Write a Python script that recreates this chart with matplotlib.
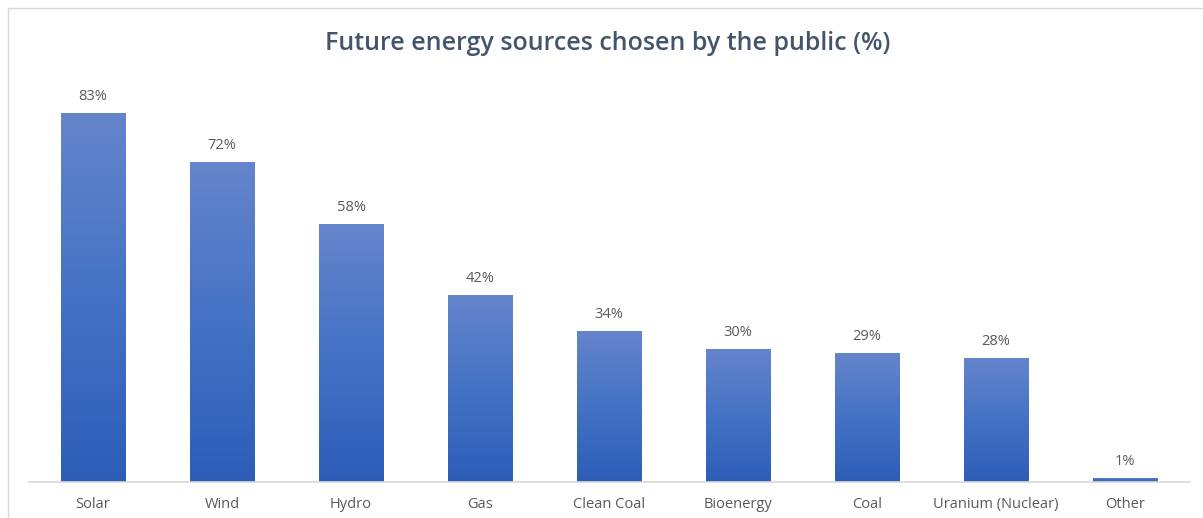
import matplotlib
matplotlib.use("Agg")
import matplotlib.pyplot as plt
import numpy as np
from matplotlib.colors import LinearSegmentedColormap
from matplotlib.lines import Line2D

categories = ["Solar", "Wind", "Hydro", "Gas", "Clean Coal", "Bioenergy", "Coal",
              "Uranium (Nuclear)", "Other"]
values = [83, 72, 58, 42, 34, 30, 29, 28, 1]
value_labels = ["83%", "72%", "58%", "42%", "34%", "30%", "29%", "28%", "1%"]

W, H = 1203, 518
fig = plt.figure(figsize=(W / 100, H / 100), dpi=100)
fig.patch.set_facecolor("white")

ax = fig.add_axes([28.5 / W, (H - 482) / H, (1189.5 - 28.5) / W, (482 - 82) / H])
ax.set_xlim(-0.5, len(categories) - 0.5)
ax.set_ylim(0, 90)

font = "Open Sans"
cmap = LinearSegmentedColormap.from_list("g", ["#2E5DB8", "#4472C4", "#6585CB"])
grad = np.linspace(0, 1, 256).reshape(-1, 1)

x = np.arange(len(categories))
bars = ax.bar(x, values, width=0.5, color="none", edgecolor="none", zorder=2)
for b, v in zip(bars, values):
    x0 = b.get_x()
    im = ax.imshow(grad, cmap=cmap, aspect="auto", origin="lower",
                   extent=[x0, x0 + b.get_width(), 0, v], zorder=2,
                   interpolation="bicubic")
    im.set_clip_path(b)

for xi, v, lab in zip(x, values, value_labels):
    ax.annotate(lab, (xi, v), xytext=(0, 6.5), textcoords="offset points",
                ha="center", va="bottom", fontsize=10.5, color="#595959",
                family=font)

ax.set_xticks(x)
ax.set_xticklabels(categories, fontsize=10.5, color="#595959", family=font)
ax.tick_params(axis="x", length=0, pad=10.5)
ax.set_yticks([])
for s in ["top", "right", "left"]:
    ax.spines[s].set_visible(False)
ax.spines["bottom"].set_color("#D9D9D9")
ax.spines["bottom"].set_linewidth(1.2)
ax.set_xlim(-0.5, len(categories) - 0.5)

fig.text(608 / W, 1 - 43 / H, "Future energy sources chosen by the public (%)",
         ha="center", va="center", fontsize=18, fontweight="semibold",
         color="#44546A", family=font)

# chart frame
fig.add_artist(Line2D([7.5 / W, 7.5 / W], [0, 1 - 7.5 / H], color="#D9D9D9",
                      lw=1, transform=fig.transFigure))
fig.add_artist(Line2D([7.5 / W, 1], [1 - 7.5 / H, 1 - 7.5 / H], color="#D9D9D9",
                      lw=1, transform=fig.transFigure))

fig.savefig("out.png", dpi=100, facecolor="white")
